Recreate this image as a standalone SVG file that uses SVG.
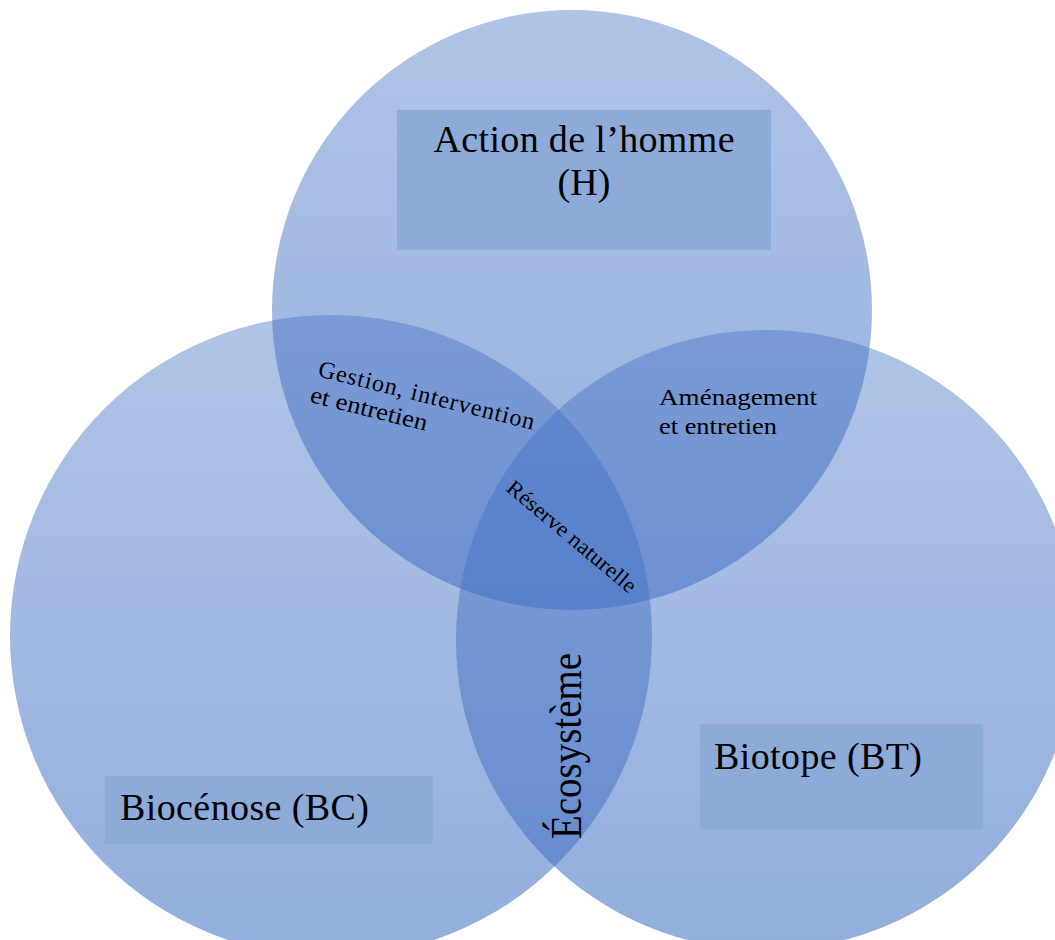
<svg xmlns="http://www.w3.org/2000/svg" width="1055" height="940" viewBox="0 0 1055 940">
<defs>
<linearGradient id="g" x1="0" y1="0" x2="0" y2="1">
<stop offset="0" stop-color="#4472C4" stop-opacity="0.42"/>
<stop offset="1" stop-color="#4472C4" stop-opacity="0.58"/>
</linearGradient>
</defs>
<style>
.c{fill:url(#g);}
.box{fill:#8DAAD9;}
.t{font-family:"Liberation Serif","Times New Roman",serif;fill:#000;}
.big{font-size:38px;}
.sm{font-size:24px;}
</style>
<rect width="1055" height="940" fill="#ffffff"/>
<g id="circle-H"><circle class="c" cx="572" cy="310" r="300"/></g>
<g id="circle-BC"><circle class="c" cx="331" cy="636" r="321"/></g>
<g id="circle-BT"><circle class="c" cx="766" cy="640" r="310"/></g>
<g id="node-H">
<rect class="box" x="397" y="110" width="374" height="140"/>
<text class="t big" x="584" y="152" text-anchor="middle" textLength="301">Action de l’homme</text>
<text class="t big" x="584" y="195" text-anchor="middle">(H)</text>
</g>
<g id="node-BC">
<rect class="box" x="105" y="776" width="328" height="68"/>
<text class="t big" x="120" y="820" textLength="249">Biocénose (BC)</text>
</g>
<g id="node-BT">
<rect class="box" x="700" y="724" width="283" height="106"/>
<text class="t big" x="714" y="769" textLength="208">Biotope (BT)</text>
</g>
<g id="label-HBC" transform="translate(317,376) rotate(14)">
<text class="t sm" x="0" y="0" textLength="222">Gestion, intervention</text>
<text class="t sm" x="-1.5" y="27" textLength="120" lengthAdjust="spacingAndGlyphs">et entretien</text>
</g>
<g id="label-HBT">
<text class="t sm" x="659" y="405" textLength="158" lengthAdjust="spacingAndGlyphs">Aménagement</text>
<text class="t sm" x="659" y="434" textLength="118" lengthAdjust="spacingAndGlyphs">et entretien</text>
</g>
<g id="label-all" transform="translate(505,490) rotate(40)">
<text class="t" font-size="22" x="0" y="0" textLength="162" lengthAdjust="spacingAndGlyphs">Réserve naturelle</text>
</g>
<g id="label-BCBT" transform="translate(581,839) rotate(-90)">
<text class="t" font-size="44" x="0" y="0" textLength="186" lengthAdjust="spacingAndGlyphs">Écosystème</text>
</g>
<g id="connectors"></g>
</svg>
